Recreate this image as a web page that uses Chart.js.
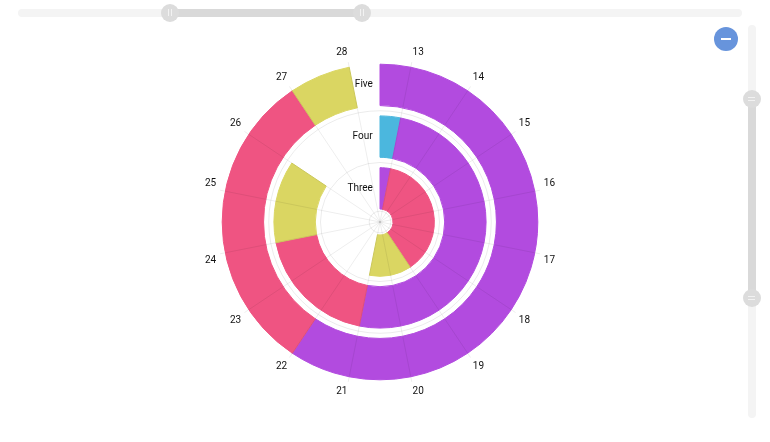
<!DOCTYPE html>
<html>
<head>
<meta charset="utf-8">
<title>Radar timeline</title>
<script src="https://cdn.jsdelivr.net/npm/chart.js@4.4.0/dist/chart.umd.min.js"></script>
<style>
  html, body { margin: 0; padding: 0; background: #fff; }
  #wrap { position: relative; width: 770px; height: 442px; overflow: hidden; }
  #canvas { position: absolute; left: 0; top: 0; }
  .track { position: absolute; background: #f4f4f4; border-radius: 4px; }
  .thumb { position: absolute; background: #d9d9d9; }
  .grip { position: absolute; width: 18px; height: 18px; border-radius: 50%; background: #dcdcdc; }
  .grip.h::after { content: ''; position: absolute; left: 7px; top: 5px; width: 2px; height: 7px;
                   border-left: 1px solid #f2f2f2; border-right: 1px solid #f2f2f2; }
  .grip.v::after { content: ''; position: absolute; left: 5px; top: 7px; width: 7px; height: 2px;
                   border-top: 1px solid #f2f2f2; border-bottom: 1px solid #f2f2f2; }
  .zoomout { position: absolute; left: 714px; top: 27px; width: 24px; height: 24px; border-radius: 50%; background: #6794dc; }
  .zoomout::after { content: ''; position: absolute; left: 7px; top: 11px; width: 10px; height: 2px; background: #fff; }
</style>
</head>
<body>
<div id="wrap">
  <canvas id="canvas" width="770" height="442"></canvas>
  <div class="track" style="left:18px;top:9px;width:724px;height:8px"></div>
  <div class="thumb" style="left:170px;top:9px;width:192px;height:8px"></div>
  <div class="grip h" style="left:161px;top:4px"></div>
  <div class="grip h" style="left:353px;top:4px"></div>
  <div class="track" style="left:748px;top:25px;width:8px;height:393px"></div>
  <div class="thumb" style="left:748px;top:99px;width:8px;height:199px"></div>
  <div class="grip v" style="left:743px;top:90px"></div>
  <div class="grip v" style="left:743px;top:289px"></div>
  <div class="zoomout"></div>
</div>
<script>
// radial axis: categories (index 0 = One ... 4 = Five), zoomed to Three..Five
var categories = ['One', 'Two', 'Three', 'Four', 'Five'];
var radialWindow = [1.35, 4.5];

// angular axis: hours, zoomed window
var hourLabels = ['13', '14', '15', '16', '17', '18', '19', '20',
                  '21', '22', '23', '24', '25', '26', '27', '28'];
var hourWindow = [12.5, 28.5];

// bars per row: start / end hour
var threeStart = [12.5, 13, 19];
var threeEnd   = [13, 19, 21];
var fourStart  = [12.5, 13, 21, 24];
var fourEnd    = [13, 21, 24, 26];
var fiveStart  = [12.5, 22, 27];
var fiveEnd    = [22, 27, 28];

// colours
var PURPLE = '#b24bdf', PINK = '#ef5482', YELLOW = '#dad662', BLUE = '#4bb7de';
var threeColors = [PURPLE, PINK, YELLOW];
var fourColors  = [BLUE, PURPLE, PINK, YELLOW];
var fiveColors  = [PURPLE, PINK, YELLOW];

var NONE = 'rgba(0,0,0,0)';
var columnWidth = 0.8;   // share of a category band filled by the bars
var gridColor = 'rgba(0,0,0,0.08)';
var fontFamily = 'Roboto';

// one ring = durations between the window edges, with empty pieces for the gaps
function ring(starts, ends, colors) {
  var data = [], bg = [];
  var cursor = hourWindow[0];
  for (var i = 0; i < starts.length; i++) {
    if (starts[i] > cursor) { data.push(starts[i] - cursor); bg.push(NONE); }
    data.push(ends[i] - starts[i]);
    bg.push(colors[i]);
    cursor = ends[i];
  }
  if (cursor < hourWindow[1]) { data.push(hourWindow[1] - cursor); bg.push(NONE); }
  return { data: data, backgroundColor: bg, borderColor: bg, borderWidth: 1, weight: columnWidth };
}
function spacer() {
  return { data: [1], backgroundColor: NONE, borderWidth: 0, weight: 1 - columnWidth };
}

// half hour steps around the circle, hour label on every second one
var angleSteps = [];
hourLabels.forEach(function (h) { angleSteps.push(''); angleSteps.push(h); });

// radial ticks: band centres carry the names, band edges carry the circles
var radialTicks = [radialWindow[0], 1.56, 2, 2.5, 3, 3.5, 4, radialWindow[1]];

var measure = document.createElement('canvas').getContext('2d');
measure.font = '10px ' + fontFamily;
function leftOfAxis(text, gap) {
  var w = measure.measureText(text).width;
  var s = measure.measureText(' ').width;
  return text + ' '.repeat(Math.round((w + 2 * gap) / s));
}

var ringOuter = 4 + columnWidth / 2;
var ringInner = 2 - columnWidth / 2;

window.onload = function () {
  var ctx = document.getElementById('canvas').getContext('2d');
  window.myChart = new Chart(ctx, {
    type: 'doughnut',
    data: {
      labels: angleSteps,
      datasets: [
        ring(fiveStart, fiveEnd, fiveColors),
        spacer(),
        ring(fourStart, fourEnd, fourColors),
        spacer(),
        ring(threeStart, threeEnd, threeColors)
      ]
    },
    options: {
      responsive: false,
      animation: false,
      layout: { padding: { left: 20, right: 30, top: 43, bottom: 41 } },
      rotation: 0,
      circumference: 360,
      radius: function (c) {
        var s = c.chart.scales.r;
        return s ? s.getDistanceFromCenterForValue(ringOuter) : '100%';
      },
      cutout: function (c) {
        var s = c.chart.scales.r;
        if (!s) return '10%';
        return (s.getDistanceFromCenterForValue(ringInner) / s.getDistanceFromCenterForValue(ringOuter) * 100) + '%';
      },
      plugins: { legend: { display: false }, tooltip: { enabled: false } },
      scales: {
        r: {
          type: 'radialLinear',
          min: radialWindow[0],
          max: radialWindow[1],
          startAngle: 0,
          afterBuildTicks: function (s) {
            s.ticks = radialTicks.map(function (v) { return { value: v }; });
          },
          grid: {
            circular: true,
            z: 1,
            lineWidth: 1,
            color: function (c) {
              var v = c.tick ? c.tick.value : 0;
              return (Math.abs(v - Math.round(v)) < 1e-6 || v >= radialWindow[1]) ? NONE : gridColor;
            }
          },
          angleLines: {
            display: true,
            color: 'rgba(0,0,0,0.07)',
            lineWidth: function (c) { return c.index % 2 ? 1 : 0; }
          },
          pointLabels: {
            display: true,
            padding: -3,
            color: '#111',
            font: { family: fontFamily, size: 10 }
          },
          ticks: {
            z: 2,
            showLabelBackdrop: false,
            color: '#111',
            font: { family: fontFamily, size: 10 },
            callback: function (v) {
              var i = Math.round(v);
              if (Math.abs(v - i) > 1e-6 || !categories[i]) return '';
              return leftOfAxis(categories[i], 7);
            }
          }
        }
      }
    }
  });
};
</script>
</body>
</html>
